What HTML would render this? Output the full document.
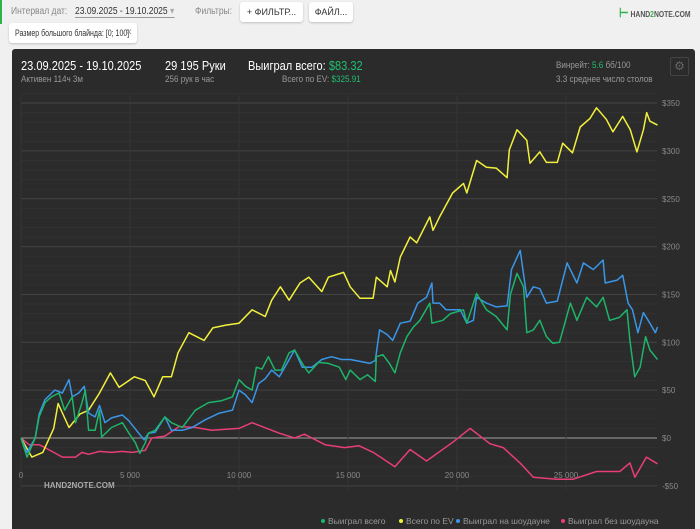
<!DOCTYPE html>
<html><head><meta charset="utf-8">
<style>
body{margin:0;width:700px;height:529px;overflow:hidden;background:#f0f0f0;font-family:"Liberation Sans",sans-serif;position:relative}
.t{position:absolute;white-space:nowrap;transform:scaleX(0.85);transform-origin:left top}
.btn{position:absolute;background:#fff;border-radius:3px;box-shadow:0 1px 2px rgba(0,0,0,.2);font-size:10px;color:#333;line-height:20px;text-align:center;white-space:nowrap}
#panel{position:absolute;left:12px;top:49px;width:683px;height:480px;background:#2b2b2b;border-radius:3px 3px 0 0}
</style></head><body>
<div style="position:absolute;left:0;top:0;width:2px;height:24px;background:#2db34a"></div>
<div class="t" style="left:11px;top:6px;font-size:10px;color:#888">Интервал дат:</div>
<div class="t" style="left:75px;top:6px;font-size:10px;color:#333;border-bottom:1px solid #999">23.09.2025 - 19.10.2025 <span style="color:#aaa">▾</span></div>
<div class="t" style="left:195px;top:6px;font-size:10px;color:#888">Фильтры:</div>
<div class="btn" style="left:240px;top:2px;width:63px;font-size:9px">+ ФИЛЬТР...</div>
<div class="btn" style="left:309px;top:2px;width:44px;font-size:9px">ФАЙЛ...</div>
<div class="t" style="left:619px;top:5px;font-size:8px;font-weight:bold;color:#555"><span style="color:#2db34a;font-size:13px">⊢</span> HAND<span style="color:#2db34a">2</span>NOTE.COM</div>
<div class="btn" style="left:9px;top:23px;width:128px;height:20px;text-align:left"></div>
<div class="t" style="left:15px;top:28px;font-size:9px;color:#333;transform:scaleX(0.78)">Размер большого блайнда: [0; 100]</div>
<div style="position:absolute;left:125px;top:27px;font-size:9px;color:#999">✕</div>
<div id="panel"></div>
<div class="t" style="left:21px;top:58px;font-size:13px;color:#fff">23.09.2025 - 19.10.2025</div>
<div class="t" style="left:21px;top:74px;font-size:9.5px;color:#999">Активен 114ч 3м</div>
<div class="t" style="left:165px;top:58px;font-size:13px;color:#fff">29 195 Руки</div>
<div class="t" style="left:165px;top:74px;font-size:9.5px;color:#999">256 рук в час</div>
<div class="t" style="left:248px;top:58px;font-size:13px;color:#fff">Выиграл всего: <span style="color:#1fbf70">$83.32</span></div>
<div class="t" style="left:282px;top:74px;font-size:9.5px;color:#999">Всего по EV: <span style="color:#1fbf70">$325.91</span></div>
<div class="t" style="left:556px;top:60px;font-size:9.5px;color:#999">Винрейт: <span style="color:#1fbf70">5.6</span> бб/100</div>
<div class="t" style="left:556px;top:74px;font-size:9.5px;color:#999">3.3 среднее число столов</div>
<div style="position:absolute;left:670px;top:57px;width:17px;height:17px;border:1px solid #444;border-radius:2px;color:#666;font-size:12px;text-align:center;line-height:17px">⚙</div>
<svg id="chart" width="700" height="529" style="position:absolute;left:0;top:0"></svg>
<script>
const hYellow=[0,500,1000,1500,1700,2200,2700,3100,3600,4100,4500,5200,5700,6100,6500,6900,7200,7700,8400,8800,9400,10000,10600,11200,11500,11900,12300,12800,13200,13800,14100,14800,15100,15550,16150,16300,16800,16950,17150,17400,17850,18150,18750,18900,19200,19800,20300,20450,20900,21350,21800,22300,22400,22750,23200,23350,23800,24100,24600,24850,25300,25650,26100,26400,26850,27150,27600,27950,28250,28550,28700,28850,29195];
const vYellow=[0,-20,-15,10,36,11,25,29,47,68,53,64,60,43,64,64,89,110,102,115,118,120,134,127,144,158,144,162,168,153,168,173,158,146,146,168,158,175,163,189,210,204,231,217,231,256,266,256,290,283,282,272,301,322,311,287,299,288,288,308,298,325,334,345,333,320,336,322,299,322,340,331,327];
const hGreen=[0,280,650,830,1100,1400,1750,2000,2350,2500,2800,2950,3100,3400,3600,3700,4150,4650,4950,5250,5450,5700,5850,6150,6600,6900,7400,8000,8600,9200,9700,10000,10300,10600,10800,11050,11350,11650,11950,12300,12550,12900,13200,13650,14100,14600,14900,15100,15550,15900,16250,16300,16600,16900,17150,17400,17700,18000,18300,18750,18850,19350,19700,20300,20450,20900,21350,21800,22300,22450,22750,23050,23200,23500,23800,24100,24400,24700,25200,25500,25950,26400,26700,27000,27450,27800,27930,28150,28400,28650,28850,29195];
const vGreen=[0,-20,0,22,37,43,47,29,43,16,37,50,8,8,29,1,11,16,5,-5,-16,-5,5,8,22,16,11,29,37,39,43,61,54,50,74,72,85,71,71,89,92,78,68,79,78,74,61,71,61,66,59,85,87,78,68,89,106,116,123,141,120,123,130,134,120,151,134,127,113,150,172,158,110,113,123,106,99,100,141,123,147,137,147,123,126,134,102,64,74,106,92,82];
const hBlue=[0,280,650,830,1100,1550,1900,2200,2350,2650,2900,3100,3400,3600,3850,4150,4650,4950,5400,5650,5850,6150,6600,6900,7400,7850,8450,9100,9700,10000,10300,10600,10900,11200,11500,11850,12100,12550,12900,13350,13800,14250,14700,15100,15550,16000,16250,16450,16800,17050,17400,17850,18200,18600,18850,18900,19200,19500,20150,20450,20750,20900,21350,21800,22300,22500,22900,23200,23500,23800,24100,24600,25050,25500,25800,26250,26700,26800,27350,27600,27850,28050,28300,28550,28850,29100,29195];
const vBlue=[0,-15,0,25,40,50,47,61,43,47,54,26,22,34,16,21,24,18,5,-2,5,6,22,8,8,11,19,26,29,50,45,37,57,62,71,64,74,92,74,74,82,85,82,82,80,78,81,113,108,102,120,122,141,147,162,141,141,134,134,120,123,147,141,137,138,176,196,147,158,156,141,143,183,162,183,176,186,162,165,170,141,134,110,131,120,110,116];
const hRed=[0,370,830,1100,1900,2500,2800,3100,3600,4150,4650,5100,5700,6000,6600,7250,8000,8750,10000,10600,11850,12550,13000,13950,14850,15500,16160,17150,17850,18600,19830,20600,21510,22120,22890,23500,24560,25330,26400,27470,27930,28160,28690,29195];
const vRed=[0,-7,-7,-10,-20,-20,-15,-17,-14,-15,-14,-15,-13,0,2,12,11,8,10,16,5,0,4,-7,-10,-8,-15,-30,-12,-24,-4,10,-6,-10,-26,-41,-43,-43,-35,-35,-26,-41,-20,-27];
const xTicks=[0,5000,10000,15000,20000,25000];
const xTickLabels=["0","5 000","10 000","15 000","20 000","25 000"];
const yTicks=[-50,0,50,100,150,200,250,300,350];
const yTickLabels=["-$50","$0","$50","$100","$150","$200","$250","$300","$350"];
const legendNames=["Выиграл всего","Всего по EV","Выиграл на шоудауне","Выиграл без шоудауна"];
const colors=["#1db56a","#f2f03c","#3a96e8","#e83e75"];

const X=h=>21+h*0.0218;
const Y=v=>438-v*0.957;
const svg=document.getElementById('chart');
const NS='http://www.w3.org/2000/svg';
function mk(t,a){const e=document.createElementNS(NS,t);for(const k in a)e.setAttribute(k,a[k]);svg.appendChild(e);return e;}
for(let v=-50;v<=360;v+=10){const l=mk('line',{x1:21,x2:657,y1:Y(v),y2:Y(v),stroke:v%50===0?(v===0?'#888':'#444'):'#313131','stroke-width':v===0?1.2:1});

}
xTicks.forEach((t,i)=>{const l=mk('line',{x1:X(t),x2:X(t),y1:95,y2:490,stroke:'#363636'});


const tx=mk('text',{x:X(t),y:478,fill:'#888','font-size':8,'text-anchor':'middle','font-family':'Liberation Sans'});tx.textContent=xTickLabels[i];

});
yTicks.forEach((t,i)=>{const tx=mk('text',{x:662,y:Y(t)+3,fill:'#888','font-size':8,'font-family':'Liberation Sans'});tx.textContent=yTickLabels[i];

});
const wm=mk('text',{x:44,y:488,fill:'#aaa','font-size':8,'font-weight':'bold','font-family':'Liberation Sans'});wm.textContent='HAND2NOTE.COM';


const series=[[hGreen,vGreen],[hYellow,vYellow],[hBlue,vBlue],[hRed,vRed]];
const order=[3,1,2,0];
const names=['series-total-won','series-ev','series-showdown','series-non-showdown'];
order.forEach(i=>{const [hs,vs]=series[i];const d=hs.map((h,j)=>(j?'L':'M')+X(h).toFixed(1)+','+Y(vs[j]).toFixed(1)).join('');
const p=mk('path',{d:d,fill:'none',stroke:colors[i],'stroke-width':1.5,'stroke-linejoin':'round'});

});
let lx=323;
legendNames.forEach((n,i)=>{const c=mk('circle',{cx:lx,cy:521,r:2,fill:colors[i]});


const t=mk('text',{x:lx+5,y:524,fill:'#999','font-size':8.5,'font-family':'Liberation Sans'});t.textContent=n;


lx+=[78,57,105,0][i];});
</script>
</body></html>
